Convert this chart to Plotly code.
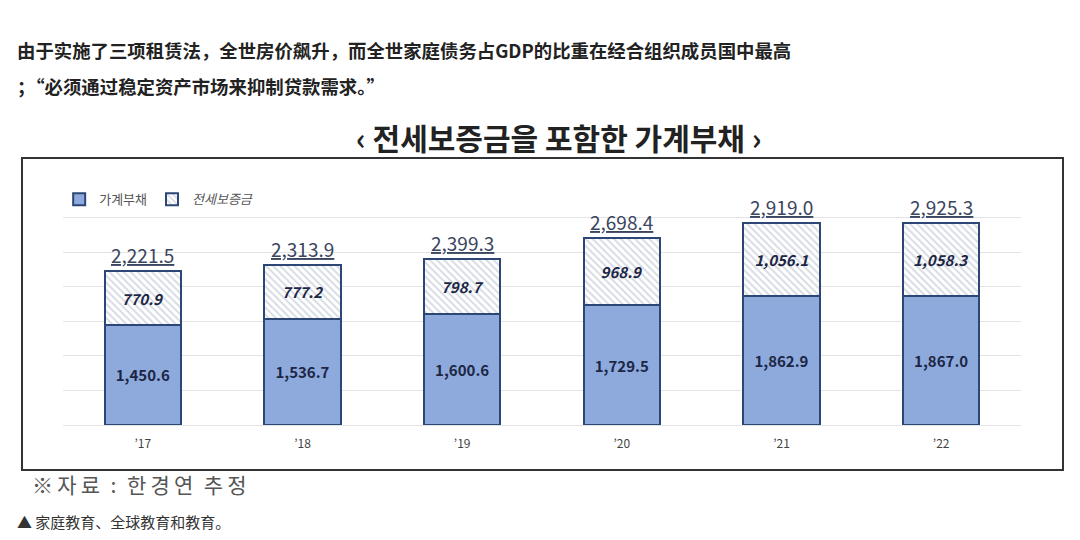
import plotly.graph_objects as go

years = ["’17", "’18", "’19", "’20", "’21", "’22"]
household_debt = [1450.6, 1536.7, 1600.6, 1729.5, 1862.9, 1867.0]
jeonse_deposit = [770.9, 777.2, 798.7, 968.9, 1056.1, 1058.3]
totals = [2221.5, 2313.9, 2399.3, 2698.4, 2919.0, 2925.3]

NAVY = "#2c4775"
CJK = "Noto Sans CJK SC"
KR = "Noto Sans CJK KR"

fig = go.Figure()
fig.add_trace(go.Bar(
    x=years, y=household_debt, name="가계부채",
    marker=dict(color="#8eaadc", line=dict(color=NAVY, width=2)),
    text=[f"<b>{v:,.1f}</b>" for v in household_debt],
    textposition="inside", insidetextanchor="middle",
    textfont=dict(family=KR, size=15, color="#1c2645"),
))
fig.add_trace(go.Bar(
    x=years, y=jeonse_deposit, name="<i>전세보증금</i>",
    marker=dict(color="white", line=dict(color=NAVY, width=2),
                pattern=dict(shape="\\", fgcolor="#aeb8c8", bgcolor="white",
                             size=5, solidity=0.4)),
    text=[f"<b><i>{v:,.1f}</i></b>" for v in jeonse_deposit],
    textposition="inside", insidetextanchor="middle",
    textfont=dict(family=KR, size=15, color="#1c2645"),
))

for x, t in zip(years, totals):
    fig.add_annotation(x=x, y=t, text=f"<u>{t:,.1f}</u>", showarrow=False,
                       yanchor="bottom", yshift=1,
                       font=dict(family=KR, size=19, color="#3a4560"))

# frame of the chart image
fig.add_shape(type="rect", xref="paper", yref="paper",
              x0=-41/958, x1=1000/958, y0=-45/242, y1=267/242,
              line=dict(color="#333333", width=2), layer="below")

W, H = 1080, 540
def px(xp, yp):
    return dict(xref="paper", yref="paper", x=(xp - 63) / 958, y=(425 - yp) / 242)

fig.add_annotation(**px(15, 50), text="<b>由于实施了三项租赁法，全世房价飙升，而全世家庭债务占GDP的比重在经合组织成员国中最高</b>",
                   showarrow=False, xanchor="left", yanchor="middle",
                   font=dict(family=CJK, size=18.4, color="#222222"))
fig.add_annotation(**px(15, 86), text="<b>；“必须通过稳定资产市场来抑制贷款需求。”</b>",
                   showarrow=False, xanchor="left", yanchor="middle",
                   font=dict(family=CJK, size=18.4, color="#222222"))
fig.add_annotation(**px(558, 137), text="<b>‹ 전세보증금을 포함한 가계부채 ›</b>",
                   showarrow=False, xanchor="center", yanchor="middle",
                   font=dict(family=KR, size=30, color="#222222"))
fig.add_annotation(**px(30, 484),
                   text="※\u2009자\u2009료\u2002:\u2002한\u2009경\u2009연\u2002추\u2009정",
                   showarrow=False, xanchor="left", yanchor="middle",
                   font=dict(family=KR, size=21, color="#555555"))
fig.add_annotation(**px(15, 521), text="▲ 家庭教育、全球教育和教育。",
                   showarrow=False, xanchor="left", yanchor="middle",
                   font=dict(family=CJK, size=15, color="#333333"))

fig.update_layout(
    width=W, height=H,
    margin=dict(l=63, r=59, t=183, b=115),
    paper_bgcolor="white", plot_bgcolor="white",
    barmode="stack", bargap=0.52,
    showlegend=True,
    legend=dict(orientation="h", x=-0.004, y=0.995, xanchor="left", yanchor="top",
                traceorder="normal", font=dict(family=KR, size=13, color="#555555"),
                itemwidth=30, bgcolor="rgba(0,0,0,0)"),
    xaxis=dict(showgrid=False, showline=False, ticks="", ticklabelstandoff=10,
               tickfont=dict(family=KR, size=12, color="#444444")),
    yaxis=dict(range=[0, 3500], dtick=500, showticklabels=False,
               showgrid=True, gridcolor="#e3e3e3", gridwidth=1,
               zeroline=True, zerolinecolor="#e3e3e3", zerolinewidth=1),
    uniformtext=dict(mode="show", minsize=10),
)

fig.write_html("out.html")
